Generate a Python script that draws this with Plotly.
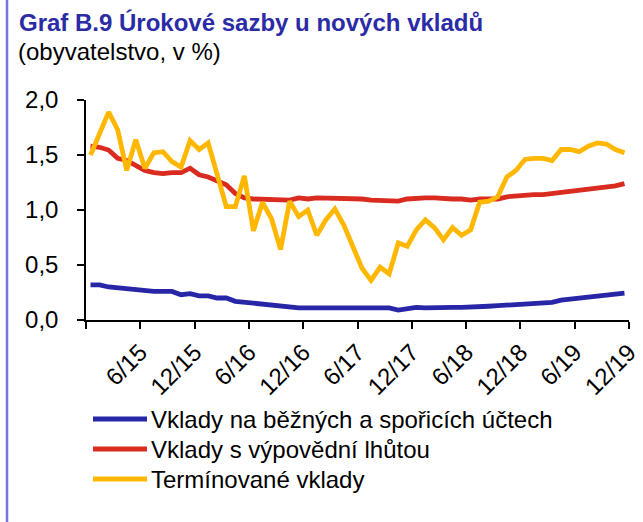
import plotly.graph_objects as go

# ---- data -------------------------------------------------------------
months = [f"{m}/{y}" for y in range(15, 20) for m in range(1, 13)]  # 1/15 .. 12/19
tick_labels = ["6/15", "12/15", "6/16", "12/16", "6/17", "12/17",
               "6/18", "12/18", "6/19", "12/19"]

bezne = [0.32, 0.32, 0.30, 0.29, 0.28, 0.27, 0.26, 0.26, 0.26, 0.26,
         0.23, 0.24, 0.22, 0.22, 0.20, 0.20, 0.17, 0.16, 0.15, 0.15,
         0.14, 0.13, 0.12, 0.11, 0.11, 0.11, 0.11, 0.11, 0.11, 0.11,
         0.11, 0.11, 0.11, 0.11, 0.09, 0.105, 0.115, 0.11, 0.115, 0.115,
         0.115, 0.115, 0.115, 0.12, 0.125, 0.13, 0.135, 0.135, 0.145, 0.155,
         0.16, 0.16, 0.18, 0.19, 0.20, 0.21, 0.22, 0.235, 0.245, 0.245]

vypovedni = [1.58, 1.57, 1.545, 1.47, 1.45, 1.40, 1.36, 1.34, 1.33, 1.34,
             1.34, 1.38, 1.32, 1.30, 1.27, 1.23, 1.15, 1.11, 1.10, 1.10,
             1.09, 1.09, 1.09, 1.11, 1.10, 1.11, 1.11, 1.11, 1.11, 1.10,
             1.10, 1.09, 1.09, 1.08, 1.08, 1.10, 1.11, 1.11, 1.11, 1.10,
             1.10, 1.10, 1.09, 1.10, 1.10, 1.10, 1.12, 1.13, 1.13, 1.14,
             1.14, 1.15, 1.15, 1.16, 1.17, 1.19, 1.19, 1.21, 1.22, 1.24]

terminovane = [1.50, 1.70, 1.89, 1.73, 1.36, 1.64, 1.38, 1.52, 1.53, 1.44,
               1.39, 1.63, 1.55, 1.61, 1.30, 1.03, 1.03, 1.31, 0.81, 1.07,
               0.92, 0.64, 1.08, 0.94, 1.00, 0.77, 0.91, 1.01, 0.86, 0.65,
               0.47, 0.36, 0.48, 0.42, 0.70, 0.67, 0.82, 0.91, 0.84, 0.73,
               0.84, 0.77, 0.82, 1.07, 1.08, 1.12, 1.30, 1.36, 1.46, 1.47,
               1.47, 1.45, 1.55, 1.55, 1.53, 1.58, 1.61, 1.60, 1.55, 1.52]

series_names = ["Vklady na běžných a spořicích účtech",
                "Vklady s výpovědní lhůtou",
                "Termínované vklady"]
series_colors = ["#2626A6", "#D92B20", "#FFB700"]

# ---- figure -----------------------------------------------------------
FONT = "Liberation Sans, Arial, sans-serif"
FS = 24
x = list(range(len(months)))

fig = go.Figure()
for name, vals, col in zip(series_names, [bezne, vypovedni, terminovane], series_colors):
    fig.add_trace(go.Scatter(x=x, y=vals, mode="lines", name=name,
                             line=dict(color=col, width=4.8),
                             hoverinfo="skip", showlegend=False))

# tick marks sit on the boundary after each labelled month
tickvals = [-0.5] + [months.index(t) + 0.5 for t in tick_labels]
ticktext = [""] + tick_labels

L, R, T, B = 86, 14, 100, 202
W, H = 643, 522
pw, ph = W - L - R, H - T - B

def px_x(p):
    return (p - L) / pw

def px_y(p):
    return (H - B - p) / ph

# legend drawn as key lines + labels below the plot
legend_rows = [419, 449, 479]
shapes = [dict(type="line", xref="paper", yref="paper",
               x0=px_x(7), x1=px_x(7), y0=px_y(H), y1=px_y(0),
               line=dict(color="#7474E2", width=2.5))]
annotations = [
    dict(text="<b>Graf B.9 Úrokové sazby u nových vkladů</b>",
         xref="paper", yref="paper", x=px_x(17), y=px_y(23),
         xanchor="left", yanchor="middle", showarrow=False,
         font=dict(family=FONT, size=FS, color="#2B2BA6")),
    dict(text="(obyvatelstvo, v %)",
         xref="paper", yref="paper", x=px_x(16), y=px_y(52),
         xanchor="left", yanchor="middle", showarrow=False,
         font=dict(family=FONT, size=FS, color="black")),
]
for name, col, ry in zip(series_names, series_colors, legend_rows):
    shapes.append(dict(type="line", xref="paper", yref="paper",
                       x0=px_x(93), x1=px_x(147), y0=px_y(ry), y1=px_y(ry),
                       line=dict(color=col, width=5)))
    annotations.append(dict(text=name, xref="paper", yref="paper",
                            x=px_x(149), y=px_y(ry), xanchor="left",
                            yanchor="middle", showarrow=False,
                            font=dict(family=FONT, size=FS, color="black")))

fig.update_layout(
    width=W, height=H,
    margin=dict(l=L, r=R, t=T, b=B, pad=0),
    paper_bgcolor="white", plot_bgcolor="white",
    font=dict(family=FONT, size=FS, color="black"),
    separators=", ",
    showlegend=False,
    xaxis=dict(range=[-0.5, len(months) - 0.5], tickmode="array",
               tickvals=tickvals, ticktext=ticktext, tickangle=-45,
               ticks="outside", ticklen=7, tickcolor="black", tickwidth=1.5,
               showline=True, linecolor="black", linewidth=1.5,
               showgrid=False, zeroline=False, ticklabelstandoff=0,
               automargin=False,
               tickfont=dict(family=FONT, size=FS, color="black")),
    yaxis=dict(range=[0, 2], tickmode="linear", tick0=0, dtick=0.5,
               tickformat=".1f",
               ticks="outside", ticklen=7, tickcolor="black", tickwidth=1.5,
               showline=True, linecolor="black", linewidth=1.5,
               showgrid=False, zeroline=False, ticklabelstandoff=14,
               automargin=False,
               tickfont=dict(family=FONT, size=FS, color="black")),
    annotations=annotations,
    shapes=shapes,
)

fig.write_html("out.html",
               config={"displayModeBar": False},
               post_script="document.body.style.margin='0px';")
